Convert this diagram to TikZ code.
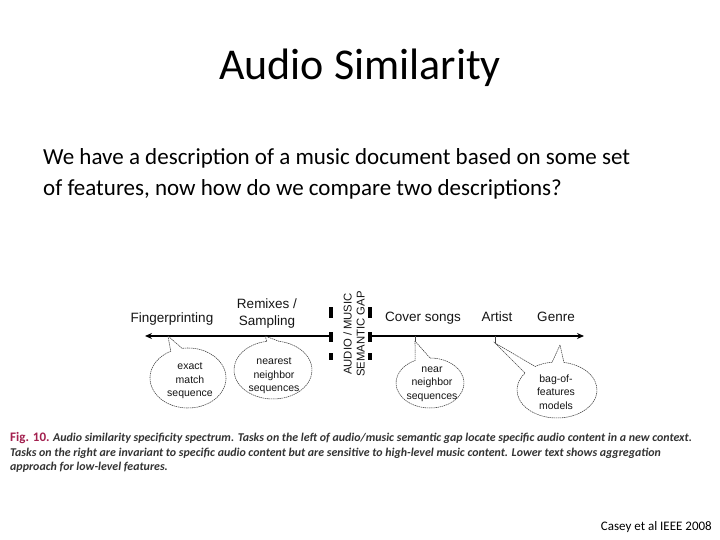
\documentclass[tikz,border=0pt]{standalone}
\usepackage{fontspec}
\setmainfont{Carlito}
\newfontfamily\diafont{Liberation Sans}
\usetikzlibrary{calc,arrows.meta}
\definecolor{figred}{HTML}{A3204F}
\definecolor{captxt}{HTML}{333333}
\definecolor{diatxt}{HTML}{151515}
\tikzset{
  lbl/.style={font=\diafont\fontsize{13.5}{15}\selectfont, text=diatxt, inner sep=0pt, anchor=base},
  calltxt/.style={font=\diafont\fontsize{10.5}{13.5}\selectfont, text=diatxt, align=center, inner sep=0pt},
  bubble/.style={draw=black!75, line width=0.55pt, dash pattern=on 1.4pt off 0.7pt},
  axisline/.style={line width=1.8pt, -{Stealth[length=7pt,width=6pt]}},
  gapbar/.style={fill=black, draw=none},
  captline/.style={font=\fontsize{11.9}{13}\selectfont\bfseries\itshape, text=captxt, inner sep=0pt, anchor=base west}
}
\begin{document}
\begin{tikzpicture}[x=1pt,y=1pt]
\useasboundingbox (0,0) rectangle (720,540);
\fill[white] (0,0) rectangle (720,540);
% title and body
\node[font=\fontsize{44}{50}\selectfont, anchor=base, inner sep=0pt] (title) at (360,460) {Audio Similarity};
\node[font=\fontsize{23}{30}\selectfont, anchor=base west, inner sep=0pt] (body1) at (43,375) {We have a description of a music document based on some set};
\node[font=\fontsize{23}{30}\selectfont, anchor=base west, inner sep=0pt] (body2) at (43,344) {of features, now how do we compare two descriptions?};
% axis
\coordinate (lstart) at (331,204);
\coordinate (lend) at (145,204);
\coordinate (rstart) at (370,204);
\coordinate (rend) at (584,204);
\draw[axisline] (lstart) -- (lend);
\draw[axisline] (rstart) -- (rend);
% gap bars
\foreach \bx in {329,368}{
  \fill[gapbar] (\bx,222) rectangle ++(4,11);
  \fill[gapbar] (\bx,198) rectangle ++(4,10);
  \fill[gapbar] (\bx,180) rectangle ++(4,7);
}
\node[font=\diafont\fontsize{11.3}{13}\selectfont, text=diatxt, rotate=90, align=center, inner sep=0pt] (gap) at (354,206) {AUDIO / MUSIC\\SEMANTIC GAP};
% labels
\node[lbl] (finger) at (172,217) {Fingerprinting};
\node[lbl] (remix) at (267,231) {Remixes /};
\node[lbl] (sampl) at (267,214) {Sampling};
\node[lbl] (cover) at (423,218) {Cover songs};
\node[lbl] (artist) at (497,218) {Artist};
\node[lbl] (genre) at (556,218) {Genre};
% callout 1
\coordinate (c1) at (188,162);
\coordinate (t1) at (168,204);
\draw[bubble] (t1) -- ($(c1)+(117:38 and 30)$) arc[start angle=117, end angle=459, x radius=38, y radius=30] -- cycle;
\node[calltxt] (e1) at (190,159) {exact\\match\\sequence};
% callout 2
\coordinate (c2) at (273,170);
\coordinate (t2) at (265,204);
\draw[bubble] (t2) -- ($(c2)+(99:39 and 29)$) arc[start angle=99, end angle=441, x radius=39, y radius=29] -- cycle;
\node[calltxt] (e2) at (274,164) {nearest\\neighbor\\sequences};
% callout 3
\coordinate (c3) at (430,157);
\coordinate (t3) at (415,199);
\draw[line width=0.55pt, black!75] ($(t3)+(0,5)$) -- (t3);
\draw[bubble] (t3) -- ($(c3)+(116:34 and 25)$) arc[start angle=116, end angle=450, x radius=34, y radius=25] -- cycle;
\node[calltxt] (e3) at (432,156) {near\\neighbor\\sequences};
% callout 4
\coordinate (c4) at (557,150);
\coordinate (tg) at (560,195);
\coordinate (ta) at (495,197);
\draw[line width=0.55pt, black!75] ($(ta)+(0,7)$) -- (ta);
\draw[bubble] (tg) -- ($(c4)+(97:40 and 28)$) arc[start angle=97, end angle=123, x radius=40, y radius=28] -- (ta) -- ($(c4)+(143:40 and 28)$) arc[start angle=143, end angle=440, x radius=40, y radius=28] -- cycle;
\node[calltxt] (e4) at (556,148) {bag-of-\\features\\models};
% caption
\node[captline] (cap1) at (10,98) {\textcolor{figred}{\upshape\fontsize{13}{13}\selectfont Fig. 10.} Audio similarity specificity spectrum. Tasks on the left of audio/music semantic gap locate specific audio content in a new context.};
\node[captline] (cap2) at (10,83.5) {Tasks on the right are invariant to specific audio content but are sensitive to high-level music content. Lower text shows aggregation};
\node[captline] (cap3) at (10,69) {approach for low-level features.};
% credit
\node[font=\fontsize{13}{15}\selectfont, anchor=base east, inner sep=0pt] (credit) at (712,9) {Casey et al IEEE 2008};
\end{tikzpicture}
\end{document}
